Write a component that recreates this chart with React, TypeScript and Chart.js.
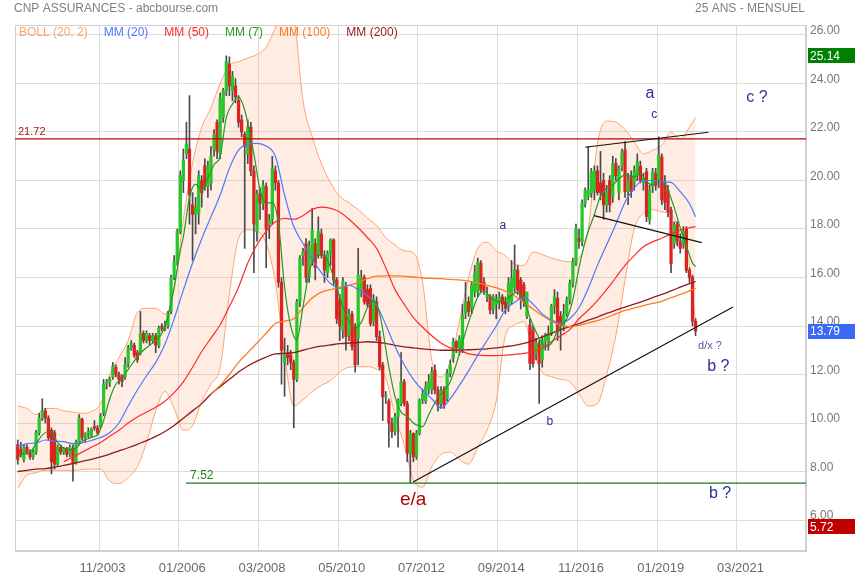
import React, { useEffect, useRef } from 'react';
import { Chart, registerables } from 'chart.js';

Chart.register(...registerables);

// ---------- DATA ----------
// months counted from 01/2000 (0 = 01/2000). First candle = 08/2001.
const FIRST_MONTH = 19;

const opens = [
  9.1, 8.9, 8.5, 9.0, 8.8, 8.6, 8.8, 9.6, 10.2, 10.5,
  10.2, 9.7, 9.6, 8.3, 9.0, 8.8, 8.95, 8.7, 8.95, 8.4,
  9.2, 10.15, 9.4, 9.55, 9.5, 9.85, 9.8, 9.85, 10.4, 11.6,
  11.7, 11.9, 12.3, 12.0, 11.9, 11.9, 12.45, 13.1, 13.2, 12.9,
  12.9, 13.7, 13.4, 13.6, 13.4, 13.6, 13.2, 14.0, 13.9, 14.0,
  14.6, 16.0, 16.65, 17.9, 20.0, 21.1, 21.3, 19.0, 18.6, 18.65,
  20.0, 20.6, 19.75, 19.9, 21.26, 22.4, 21.1, 22.6, 23.7, 24.8,
  23.7, 23.9, 23.3, 22.5, 21.9, 21.1, 22.2, 20.4, 17.9, 19.45,
  19.06, 19.75, 18.2, 18.4, 20.4, 19.9, 15.8, 12.5, 12.9, 12.8,
  12.5, 11.8, 15.0, 16.9, 17.4, 16.0, 16.7, 17.4, 17.0, 17.8,
  16.9, 16.2, 17.0, 17.55, 15.9, 15.07, 13.83, 15.6, 13.6, 14.5,
  14.0, 13.5, 15.5, 16.0, 15.5, 15.55, 14.2, 15.0, 13.56, 12.39,
  11.08, 10.9, 10.0, 9.64, 10.26, 10.81, 11.7, 10.8, 8.75, 9.57,
  8.6, 9.57, 10.95, 10.9, 11.4, 11.36, 12.19, 11.36, 10.8, 11.4,
  11.0, 12.05, 12.67, 13.35, 13.1, 13.08, 14.52, 15.0, 14.73, 15.4,
  15.4, 16.58, 15.8, 15.2, 15.21, 14.7, 14.9, 15.0, 15.2, 15.0,
  14.8, 15.0, 15.62, 16.31, 15.9, 15.7, 14.4, 14.04, 13.8, 12.87,
  13.28, 12.6, 13.4, 13.3, 13.7, 14.8, 15.14, 14.4, 14.0, 14.5,
  15.07, 15.76, 16.6, 17.6, 17.48, 19.06, 19.35, 19.47, 19.6, 20.4,
  19.9, 20.0, 19.0, 20.0, 19.33, 20.7, 19.5, 20.57, 21.26, 19.54,
  20.2, 19.9, 20.23, 20.6, 19.9, 20.36, 18.37, 19.74, 20.3, 19.95,
  20.98, 19.9, 19.6, 18.78, 17.4, 18.2, 17.5, 17.4, 18.0, 16.3,
  16.0, 14.2,
];

const highs = [
  9.3, 9.2, 9.1, 9.1, 8.9, 8.9, 9.7, 10.4, 11.0, 10.6,
  10.3, 9.8, 9.7, 9.1, 9.1, 9.0, 9.0, 9.1, 9.1, 9.3,
  10.35, 10.2, 9.6, 9.8, 9.8, 10.1, 9.9, 10.4, 11.8, 11.8,
  11.9, 12.5, 12.4, 12.1, 12.0, 12.7, 13.2, 13.4, 13.3, 13.0,
  14.6, 13.8, 13.8, 13.7, 13.7, 13.7, 14.0, 14.1, 14.2, 14.6,
  16.1, 16.9, 18.0, 20.4, 21.3, 22.4, 23.5, 19.5, 19.3, 20.4,
  20.2, 20.9, 20.8, 21.4, 22.1, 22.5, 23.6, 23.8, 25.14, 25.1,
  24.5, 24.2, 23.5, 22.7, 22.0, 22.5, 22.4, 20.6, 19.6, 19.7,
  20.0, 19.9, 18.6, 21.0, 20.6, 20.0, 16.0, 13.5, 13.2, 13.0,
  12.6, 15.1, 16.9, 17.2, 17.6, 17.5, 18.85, 17.6, 18.5, 18.0,
  17.1, 17.1, 17.6, 17.6, 16.0, 15.3, 16.0, 15.8, 14.7, 14.6,
  14.1, 17.2, 16.3, 16.1, 15.7, 15.7, 15.3, 15.2, 13.8, 12.5,
  11.3, 11.0, 10.2, 10.4, 11.0, 12.9, 11.8, 10.9, 9.7, 9.6,
  9.7, 11.0, 11.4, 11.7, 12.0, 12.3, 12.4, 11.5, 11.5, 11.5,
  12.2, 12.6, 13.5, 13.4, 13.6, 14.9, 15.8, 15.2, 15.8, 16.5,
  16.8, 16.7, 16.0, 15.6, 15.3, 15.3, 15.3, 15.4, 15.3, 15.2,
  16.0, 16.7, 17.34, 16.5, 16.0, 15.8, 15.4, 14.3, 14.0, 13.5,
  13.4, 13.6, 13.7, 14.0, 14.9, 15.5, 15.4, 14.6, 14.9, 15.2,
  15.9, 16.8, 18.2, 18.0, 19.2, 19.7, 21.4, 20.5, 20.6, 20.6,
  21.2, 20.3, 19.8, 20.2, 21.0, 20.9, 20.6, 21.3, 21.6, 20.3,
  20.4, 20.6, 21.1, 20.8, 20.3, 20.5, 19.8, 20.5, 20.5, 21.8,
  21.1, 20.2, 19.8, 18.9, 18.3, 18.3, 17.8, 18.1, 18.1, 16.4,
  16.1, 14.3,
];

const lows = [
  8.3, 8.6, 8.4, 8.7, 8.5, 8.5, 8.7, 9.5, 10.1, 10.0,
  9.3, 7.9, 8.1, 8.2, 8.7, 8.7, 8.6, 8.6, 7.6, 8.3,
  9.1, 9.3, 9.2, 9.4, 9.4, 9.7, 9.5, 9.8, 10.3, 11.4,
  11.5, 11.8, 11.9, 11.6, 11.5, 11.8, 12.3, 13.0, 12.7, 12.5,
  12.8, 13.3, 13.3, 13.2, 13.3, 12.9, 13.1, 13.8, 13.8, 13.9,
  14.5, 15.9, 16.5, 17.8, 19.5, 20.9, 18.2, 16.7, 17.8, 18.2,
  18.9, 19.6, 19.3, 19.6, 21.0, 20.9, 20.9, 22.4, 23.5, 23.5,
  23.3, 23.2, 22.2, 21.8, 17.2, 20.7, 20.2, 16.2, 17.5, 18.4,
  18.8, 16.4, 17.6, 18.2, 19.6, 15.6, 11.6, 11.1, 12.4, 12.2,
  9.8, 11.7, 14.8, 16.5, 15.8, 15.8, 16.5, 15.9, 16.8, 16.8,
  15.8, 16.0, 16.5, 15.7, 14.1, 13.4, 13.5, 13.0, 13.4, 13.0,
  12.1, 12.4, 15.2, 14.9, 14.8, 14.0, 14.0, 13.4, 12.2, 10.1,
  10.8, 9.0, 9.4, 9.5, 9.0, 10.7, 10.7, 8.4, 7.52, 8.4,
  8.5, 9.5, 10.8, 10.8, 11.2, 11.2, 11.2, 10.5, 10.6, 10.6,
  10.9, 11.9, 12.5, 12.9, 12.8, 12.9, 14.3, 14.4, 14.5, 15.2,
  15.2, 15.4, 15.3, 15.0, 14.5, 14.5, 14.3, 14.7, 14.6, 14.5,
  14.6, 14.9, 15.4, 15.3, 14.7, 14.8, 14.3, 12.2, 12.3, 12.6,
  10.81, 12.3, 13.0, 13.0, 13.6, 14.5, 13.4, 13.0, 13.8, 14.4,
  14.9, 15.6, 16.5, 17.2, 17.3, 18.9, 19.2, 19.3, 19.2, 19.4,
  19.2, 18.4, 18.7, 18.7, 19.1, 20.0, 19.2, 20.4, 19.3, 19.0,
  19.3, 19.6, 20.0, 19.9, 19.6, 18.3, 18.2, 19.5, 19.6, 19.7,
  19.0, 18.8, 18.5, 16.2, 17.2, 17.3, 17.0, 17.2, 16.2, 15.8,
  14.0, 13.6,
];

const closes = [
  8.5, 8.7, 9.0, 8.8, 8.6, 8.8, 9.6, 10.2, 10.5, 10.2,
  9.4, 8.4, 8.3, 9.0, 8.8, 8.95, 8.7, 9.0, 8.35, 9.2,
  10.2, 9.4, 9.55, 9.65, 9.75, 9.8, 9.6, 10.3, 11.6, 11.7,
  11.8, 12.35, 12.0, 11.8, 11.7, 12.4, 13.1, 13.3, 12.8, 12.6,
  13.7, 13.4, 13.7, 13.4, 13.6, 13.2, 13.9, 13.9, 14.0, 14.5,
  16.0, 16.65, 17.9, 20.2, 20.85, 21.5, 19.4, 18.6, 18.9, 20.2,
  19.5, 19.75, 20.6, 21.0, 21.9, 21.2, 23.4, 23.7, 24.9, 23.9,
  24.3, 23.45, 22.4, 22.0, 21.4, 22.2, 20.4, 18.2, 19.45, 19.06,
  19.8, 18.0, 18.4, 20.5, 19.9, 15.8, 13.0, 12.8, 12.7, 12.5,
  11.8, 15.0, 16.8, 17.05, 16.0, 17.3, 17.95, 16.4, 17.9, 16.9,
  16.3, 17.0, 17.55, 15.9, 14.3, 14.0, 15.83, 13.56, 14.5, 13.15,
  12.4, 16.1, 16.0, 15.0, 14.9, 14.1, 15.1, 13.56, 12.32, 11.08,
  11.1, 10.0, 9.64, 10.26, 10.95, 11.7, 10.8, 8.75, 9.57, 8.6,
  9.57, 10.95, 11.2, 11.5, 11.7, 12.1, 11.36, 10.74, 11.3, 10.74,
  12.05, 12.4, 13.35, 13.1, 13.5, 14.45, 15.0, 14.6, 15.69, 16.17,
  16.65, 15.48, 15.48, 15.3, 14.66, 15.2, 15.1, 15.2, 14.9, 14.73,
  15.76, 15.97, 16.31, 15.48, 15.14, 15.0, 15.4, 12.46, 12.46, 13.3,
  12.46, 13.4, 13.6, 13.7, 14.8, 15.2, 13.76, 14.04, 14.5, 15.07,
  15.76, 16.65, 18.03, 17.5, 19.06, 19.6, 19.6, 20.36, 20.4, 19.5,
  19.5, 19.0, 19.5, 19.0, 20.7, 20.2, 20.5, 21.19, 19.54, 20.0,
  19.54, 20.4, 20.78, 20.0, 20.1, 18.51, 19.6, 20.36, 19.8, 21.05,
  19.2, 19.1, 18.72, 16.58, 18.16, 17.5, 17.2, 17.9, 16.3, 16.0,
  14.2, 13.79,
];

// indicator lines, read every 3 months
const gridMonths = [
  19, 22, 25, 28, 31, 34, 37, 40, 43, 46, 49, 52, 55, 58, 61, 64, 67, 70, 73, 76,
  79, 82, 85, 88, 91, 94, 97, 100, 103, 106, 109, 112, 115, 118, 121, 124, 127, 130, 133, 136,
  139, 142, 145, 148, 151, 154, 157, 160, 163, 166, 169, 172, 175, 178, 181, 184, 187, 190, 193, 196,
  199, 202, 205, 208, 211, 214, 217, 220, 223, 226, 229, 232, 235, 238, 240,
];

const mm200 = [
  8.0, 8.05, 8.1, 8.12, 8.18, 8.25, 8.33, 8.42, 8.5, 8.6, 8.72, 8.85, 8.98, 9.12, 9.27, 9.45, 9.65, 9.9, 10.2, 10.5,
  10.8, 11.2, 11.5, 11.8, 12.1, 12.35, 12.55, 12.72, 12.85, 12.87, 12.9, 13.0, 13.1, 13.17, 13.22, 13.27, 13.3, 13.32, 13.35, 13.33,
  13.28, 13.2, 13.14, 13.1, 13.06, 13.03, 13.0, 13.0, 13.0, 13.02, 13.04, 13.06, 13.1, 13.15, 13.2, 13.28, 13.4, 13.55, 13.7, 13.85,
  13.97, 14.1, 14.24, 14.37, 14.52, 14.65, 14.78, 14.9, 15.03, 15.17, 15.3, 15.45, 15.6, 15.75, 15.83,
];

const mm100 = [
  null, null, null, null, null, null, null, null, null, null, null, null, null, null, null, null, null, null, null, null,
  null, 11.2, 11.55, 12.0, 12.5, 12.9, 13.3, 13.7, 14.1, 14.2, 14.3, 14.75, 15.15, 15.4, 15.5, 15.6, 15.68, 15.8, 15.95, 16.06,
  16.07, 16.07, 16.05, 16.02, 15.98, 15.96, 15.95, 15.92, 15.9, 15.85, 15.78, 15.68, 15.58, 15.44, 15.25, 14.97, 14.7, 14.43, 14.2, 14.04,
  13.97, 14.03, 14.13, 14.22, 14.35, 14.5, 14.64, 14.74, 14.84, 14.93, 15.02, 15.17, 15.3, 15.45, 15.55,
];

const mm50 = [
  null, null, null, null, null, 8.4, 8.6, 8.8, 9.0, 9.2, 9.45, 9.7, 10.0, 10.25, 10.45, 10.65, 10.9, 11.25, 11.7, 12.3,
  12.95, 13.5, 14.05, 14.8, 15.6, 16.6, 17.35, 17.9, 18.3, 18.44, 18.4, 18.55, 18.8, 18.9, 18.85, 18.7, 18.4, 18.05, 17.65, 17.2,
  16.4, 15.5, 14.9, 14.35, 13.95, 13.6, 13.3, 13.1, 13.0, 12.85, 12.8, 12.78, 12.78, 12.8, 12.83, 12.87, 12.95, 13.1, 13.35, 13.6,
  13.85, 14.3, 14.65, 15.05, 15.5, 16.0, 16.5, 16.9, 17.27, 17.47, 17.62, 17.8, 17.95, 18.05, 18.1,
];

const mm20 = [
  9.02, 9.15, 9.18, 9.3, 9.25, 9.23, 9.15, 9.18, 9.28, 9.4, 9.6, 10.0, 10.7, 11.36, 11.95, 12.5, 13.25, 14.3, 15.48, 16.6,
  17.6, 18.5, 19.4, 20.5, 21.25, 21.5, 21.53, 21.42, 21.0, 19.4, 18.1, 17.4, 16.75, 16.2, 15.75, 15.55, 15.68, 15.5, 15.25, 14.85,
  14.05, 13.15, 12.4, 11.8, 11.35, 11.0, 10.62, 11.0, 11.55, 12.15, 12.8, 13.4, 14.0, 14.66, 14.98, 15.18, 14.9, 14.5, 14.25, 14.12,
  14.3, 14.75, 15.55, 16.5, 17.35, 18.2, 19.1, 19.7, 20.0, 20.0, 19.95, 19.92, 19.54, 19.05, 18.5,
];

const bollUpper = [
  10.7, 10.6, 10.35, 10.6, 10.6, 10.5, 10.45, 10.4, 10.47, 10.8, 12.0, 12.7, 13.4, 14.55, 14.73, 14.73, 14.5, 15.5, 18.4, 20.7,
  22.2, 23.0, 24.0, 24.75, 24.9, 25.05, 25.2, 25.5, 26.3, 27.2, 26.7, 23.3, 21.8, 20.7, 19.9, 19.35, 19.08, 18.8, 18.45, 18.15,
  17.65, 17.35, 17.1, 17.02, 15.8, 12.6, 11.9, 12.5, 14.2, 16.0, 17.2, 17.45, 17.1, 16.9, 16.55, 16.5, 17.05, 16.95, 16.8, 16.7,
  16.65, 16.8, 18.0, 21.5, 22.45, 22.4, 22.1, 21.6, 21.1, 21.25, 21.45, 22.0, 21.7, 22.2, 22.6,
];

const bollLower = [
  7.3, 7.85, 7.95, 8.05, 8.05, 8.05, 8.05, 8.08, 8.1, 8.1, 7.6, 7.5, 7.75, 8.2, 9.2, 10.5, 11.3, 10.6, 9.7, 9.9,
  10.9, 11.6, 12.3, 15.3, 17.6, 17.96, 17.9, 17.41, 15.8, 12.8, 10.7, 10.95, 11.3, 11.55, 11.75, 12.1, 12.3, 12.32, 12.32, 12.22,
  11.85, 10.3, 9.1, 7.65, 7.35, 8.2, 8.7, 8.8, 8.5, 8.3, 9.0, 9.7, 10.9, 13.6, 14.04, 14.18, 13.0, 12.1, 11.91, 11.8,
  11.7, 11.2, 10.7, 10.8, 12.0, 13.6, 15.9, 18.0, 18.65, 18.8, 18.7, 18.6, 17.8, 16.5, 14.1,
];

const mm7Months = [
  19, 21, 23, 25, 27, 29, 30, 32, 34, 36, 38, 40, 42, 44, 45, 47, 49, 51, 53, 55,
  58, 60, 62, 64, 66, 68, 70, 72, 73, 75, 77, 79, 81, 83, 85, 87, 89, 91, 93, 94,
  96, 98, 100, 102, 104, 106, 108, 110, 112, 114, 116, 118, 120, 122, 125, 127, 129, 131, 133, 135,
  137, 140, 142, 144, 146, 148, 151, 153, 156, 158, 160, 163, 165, 167, 169, 171, 173, 176, 178, 180,
  182, 184, 186, 189, 191, 193, 195, 197, 198, 200, 202, 204, 207, 209, 211, 213, 215, 217, 220, 222,
  224, 226, 228, 230, 233, 235, 237, 239, 240,
];
const mm7 = [
  8.6, 8.75, 8.8, 9.15, 9.5, 9.65, 9.6, 9.2, 8.96, 8.89, 8.96, 9.25, 9.35, 9.45, 9.5, 10.1, 11.0, 11.6, 11.85, 12.2,
  12.74, 13.0, 13.2, 13.4, 13.7, 14.4, 15.6, 17.1, 17.68, 19.3, 19.85, 19.6, 20.1, 20.65, 21.0, 22.6, 23.15, 23.45, 22.9, 22.36,
  21.1, 19.61, 19.06, 19.1, 18.23, 15.6, 14.0, 13.42, 14.8, 16.2, 16.86, 16.93, 16.7, 16.0, 14.8, 14.2, 13.9, 14.15, 14.75, 15.05,
  14.5, 12.3, 11.09, 10.45, 10.28, 10.0, 9.85, 10.35, 11.05, 11.35, 11.7, 12.85, 13.75, 14.52, 15.2, 15.45, 15.2, 15.0, 15.07, 15.28,
  15.4, 15.1, 14.35, 13.5, 13.15, 13.28, 13.8, 14.15, 14.3, 15.1, 16.4, 17.5, 18.6, 19.35, 19.68, 19.8, 20.07, 20.22, 20.15, 20.28,
  19.95, 19.82, 20.0, 19.85, 18.9, 18.05, 17.3, 16.6, 16.45,
];

// horizontal levels
const levelHigh = 21.72;
const levelLow = 7.52;
const levelLowStart = 74.4;

// hand-drawn trend lines [month, price]
const supportLine = [[148.4, 7.57], [252.7, 14.78]];
const channelTop = [[204.5, 21.37], [244.7, 21.99]];
const channelBottom = [[207.4, 18.55], [242.5, 17.44]];

// wave labels [text, month, price, kind]
const waveNotes: [string, number, number, string][] = [
  ['a', 225.65, 23.57, 'big'],
  ['c ?', 260.5, 23.4, 'big'],
  ['c', 227.0, 22.7, 'small'],
  ['a', 177.7, 18.12, 'small'],
  ['b', 193.0, 10.04, 'small'],
  ['d/x ?', 245.2, 13.19, 'tiny'],
  ['b ?', 247.9, 12.32, 'big'],
  ['b ?', 248.5, 7.1, 'big'],
  ['e/a', 148.4, 6.82, 'red'],
];

// right axis price tags
const tagValues = [25.14, 13.79, 5.72];
const tagColors = ['#008000', '#3a6af5', '#c00000'];

const xTickMonths = [46, 72, 98, 124, 150, 176, 202, 228, 254];
const yTickValues = [6, 8, 10, 12, 14, 16, 18, 20, 22, 24, 26];

const legendLabels = ['BOLL (20, 2)', 'MM (20)', 'MM (50)', 'MM (7)', 'MM (100)', 'MM (200)'];

// ---------- STYLE ----------
const FONT = "'Liberation Sans', Arial, Helvetica, sans-serif";
const NARROW = "'Liberation Sans Narrow', 'Arial Narrow', 'Liberation Sans', sans-serif";
const C_BOLL = '#ffa270';
const C_MM20 = '#4d78ff';
const C_MM50 = '#ff2b2b';
const C_MM7 = '#239a23';
const C_MM100 = '#ff7a1f';
const C_MM200 = '#8e1d1d';
const legendColors = [C_BOLL, C_MM20, C_MM50, C_MM7, C_MM100, C_MM200];
const C_UP = '#27c727';
const C_DOWN = '#dd2222';
const C_WICK = '#4a4a4a';
const NAVY = '#2e2e8f';

const X_MIN = 18.61;
const X_MAX = 276.5;
const Y_MIN = 4.722;
const Y_MAX = 26.412;

function monthLabel(v: number) {
  const m = Math.round(v);
  const year = 2000 + Math.floor(m / 12);
  const mon = (m % 12) + 1;
  return (mon < 10 ? '0' : '') + mon + '/' + year;
}

function lineSet(label: string, months: number[], values: (number | null)[], color: string, width: number, order: number) {
  const data = months
    .map((m, i) => (values[i] == null ? null : { x: m + 0.5, y: values[i] as number }))
    .filter((p) => p !== null);
  return {
    type: 'line' as const,
    label,
    data,
    borderColor: color,
    backgroundColor: color,
    borderWidth: width,
    pointRadius: 0,
    fill: false,
    cubicInterpolationMode: 'monotone' as const,
    order,
  };
}

function segSet(label: string, pts: number[][], color: string, width: number) {
  return {
    type: 'line' as const,
    label,
    data: pts.map((p) => ({ x: p[0], y: p[1] })),
    borderColor: color,
    borderWidth: width,
    pointRadius: 0,
    fill: false,
    tension: 0,
    order: 0,
  };
}

const overlay = {
  id: 'overlay',
  beforeDatasetsDraw(chart: any) {
    const { ctx, chartArea: a } = chart;
    ctx.save();
    ctx.strokeStyle = '#cfcfcf';
    ctx.lineWidth = 1;
    ctx.strokeRect(a.left + 0.5, a.top + 0.5, a.right - a.left - 1, a.bottom - a.top - 1);
    ctx.restore();
  },
  afterDraw(chart: any) {
    const { ctx, chartArea: a, scales } = chart;
    const xs = scales.x;
    const ys = scales.y;
    ctx.save();
    ctx.textBaseline = 'middle';

    // titles
    ctx.font = `12px ${FONT}`;
    ctx.fillStyle = '#808080';
    ctx.textAlign = 'left';
    ctx.fillText('CNP ASSURANCES - abcbourse.com', 14, 9);
    ctx.textAlign = 'right';
    ctx.fillText('25 ANS - MENSUEL', a.right - 1, 9);

    // legend
    ctx.textAlign = 'left';
    let lx = 19;
    legendLabels.forEach((t, i) => {
      ctx.fillStyle = legendColors[i];
      ctx.fillText(t, lx, 33);
      lx += ctx.measureText(t).width + 16;
    });

    // level labels
    ctx.font = `11px ${FONT}`;
    ctx.fillStyle = '#9a1515';
    ctx.fillText(levelHigh.toFixed(2), a.left + 3, ys.getPixelForValue(levelHigh) - 7);
    ctx.font = `12px ${FONT}`;
    ctx.fillStyle = '#1f861f';
    ctx.fillText(levelLow.toFixed(2), xs.getPixelForValue(levelLowStart) + 4, ys.getPixelForValue(levelLow) - 7);

    // wave notes
    ctx.textAlign = 'center';
    waveNotes.forEach(([t, m, v, kind]) => {
      if (kind === 'big') { ctx.font = `16px ${FONT}`; ctx.fillStyle = NAVY; }
      else if (kind === 'small') { ctx.font = `12px ${FONT}`; ctx.fillStyle = NAVY; }
      else if (kind === 'tiny') { ctx.font = `11px ${FONT}`; ctx.fillStyle = '#5a5aa8'; }
      else { ctx.font = `19px ${FONT}`; ctx.fillStyle = '#b30000'; }
      ctx.fillText(t, xs.getPixelForValue(m), ys.getPixelForValue(v));
    });

    // price tags
    ctx.textAlign = 'left';
    ctx.font = `12px ${FONT}`;
    tagValues.forEach((v, i) => {
      const cy = ys.getPixelForValue(v);
      ctx.fillStyle = tagColors[i];
      ctx.fillRect(a.right + 2, Math.round(cy - 7.5), 855 - a.right - 2, 15);
      ctx.fillStyle = '#ffffff';
      ctx.fillText(v.toFixed(2), a.right + 4, cy + 0.5);
    });
    ctx.restore();
  },
};

function buildConfig(): any {
  const months = closes.map((_, i) => FIRST_MONTH + i + 0.5);
  const wicks = months.map((x, i) => ({ x, y: [lows[i], highs[i]] }));
  const bodies = months.map((x, i) => ({ x, y: [opens[i], closes[i]] }));
  const bodyColors = closes.map((c, i) => (c >= opens[i] ? C_UP : C_DOWN));

  const upper: any = lineSet('BOLL up', gridMonths, bollUpper, C_BOLL, 1, 20);
  upper.fill = '+1';
  upper.backgroundColor = 'rgba(255, 165, 115, 0.2)';
  const lower: any = lineSet('BOLL low', gridMonths, bollLower, C_BOLL, 1, 19);

  return {
    type: 'line',
    data: {
      datasets: [
        upper,
        lower,
        {
          type: 'bar', label: 'wicks', data: wicks, backgroundColor: C_WICK,
          barThickness: 1, grouped: false, order: 15, borderWidth: 0,
        },
        {
          type: 'bar', label: 'bodies', data: bodies, backgroundColor: bodyColors,
          barThickness: 2.6, grouped: false, order: 14, borderWidth: 0, minBarLength: 1,
        },
        lineSet('MM (200)', gridMonths, mm200, C_MM200, 1.3, 6),
        lineSet('MM (100)', gridMonths, mm100, C_MM100, 1.3, 5),
        lineSet('MM (50)', gridMonths, mm50, C_MM50, 1.2, 4),
        lineSet('MM (20)', gridMonths, mm20, C_MM20, 1.2, 3),
        lineSet('MM (7)', mm7Months, mm7, C_MM7, 1.2, 2),
        segSet('support', supportLine, '#111111', 1.2),
        segSet('channel top', channelTop, '#111111', 1.2),
        segSet('channel bottom', channelBottom, '#111111', 1.2),
        segSet('level high', [[X_MIN, levelHigh], [X_MAX, levelHigh]], '#c00000', 1.2),
        segSet('level low', [[levelLowStart, levelLow], [X_MAX, levelLow]], '#1a7d1a', 1.2),
      ],
    },
    options: {
      responsive: false,
      animation: false,
      events: [],
      layout: { padding: { left: 15, top: 25, right: 0, bottom: 0 } },
      plugins: { legend: { display: false }, tooltip: { enabled: false } },
      scales: {
        x: {
          type: 'linear',
          min: X_MIN,
          max: X_MAX,
          offset: false,
          afterBuildTicks: (s: any) => { s.ticks = xTickMonths.map((value) => ({ value })); },
          afterFit: (s: any) => { s.height = 29; },
          grid: { color: '#dcdcdc', drawTicks: false, offset: false },
          border: { color: '#cfcfcf' },
          ticks: {
            autoSkip: false, maxRotation: 0, minRotation: 0, padding: 10, labelOffset: 3.5,
            color: '#6a6a6a', font: { family: NARROW, size: 13 },
            callback: (v: any) => monthLabel(Number(v)),
          },
        },
        y: {
          type: 'linear',
          position: 'right',
          min: Y_MIN,
          max: Y_MAX,
          afterBuildTicks: (s: any) => { s.ticks = yTickValues.map((value) => ({ value })); },
          afterFit: (s: any) => { s.width = 49; },
          grid: { color: '#dcdcdc', drawTicks: false },
          border: { color: '#cfcfcf' },
          ticks: {
            padding: 4, labelOffset: -4, color: '#777777', font: { family: FONT, size: 12 },
            callback: (v: any) => Number(v).toFixed(2),
          },
        },
      },
    },
    plugins: [overlay],
  };
}

export default function App() {
  const ref = useRef<HTMLCanvasElement>(null);
  useEffect(() => {
    if (!ref.current) return;
    const chart = new Chart(ref.current, buildConfig());
    return () => chart.destroy();
  }, []);
  return (
    <div style={{ position: 'absolute', left: 0, top: 0, width: 855, height: 580, background: '#ffffff' }}>
      <canvas ref={ref} width={855} height={580} style={{ display: 'block', width: 855, height: 580 }} />
    </div>
  );
}
